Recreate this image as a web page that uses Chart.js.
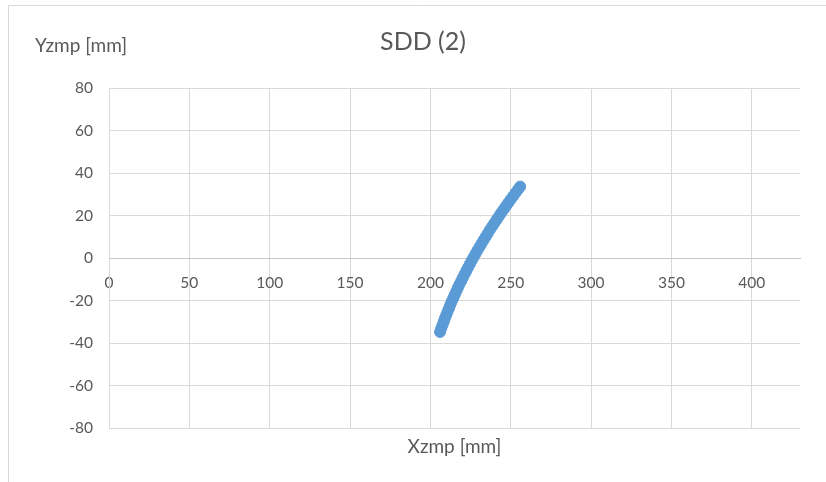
<!DOCTYPE html>
<html><head><meta charset="utf-8">
<script src="https://cdn.jsdelivr.net/npm/chart.js@4.4.0/dist/chart.umd.min.js"></script>
<style>html,body{margin:0;padding:0;background:#fff;} canvas{display:block;}</style>
</head><body>
<canvas id="c" width="826" height="482"></canvas>
<script>
const chartTitle = 'SDD (2)';
const xAxisTitle = 'Xzmp [mm]';
const yAxisTitle = 'Yzmp [mm]';
const xTickValues = [0, 50, 100, 150, 200, 250, 300, 350, 400];
const yTickValues = [-80, -60, -40, -20, 0, 20, 40, 60, 80];
const xValues = [206.0, 206.7, 207.5, 208.3, 209.0, 209.9, 210.7, 211.6, 212.4, 213.3,
  214.3, 215.2, 216.2, 217.1, 218.1, 219.2, 220.2, 221.3, 222.4, 223.5,
  224.6, 225.7, 226.9, 228.1, 229.3, 230.6, 231.8, 233.1, 234.4, 235.7,
  237.0, 238.4, 239.8, 241.2, 242.6, 244.0, 245.5, 247.0, 248.5, 250.0,
  251.6, 253.1, 254.7, 255.9];
const yValues = [-34.8, -33.2, -31.6, -30.0, -28.4, -26.8, -25.2, -23.6, -22.0, -20.4,
  -18.8, -17.2, -15.6, -14.0, -12.4, -10.8, -9.2, -7.6, -6.0, -4.4,
  -2.8, -1.2, 0.4, 2.0, 3.6, 5.2, 6.8, 8.4, 10.0, 11.6,
  13.2, 14.8, 16.4, 18.0, 19.6, 21.2, 22.8, 24.4, 26.0, 27.6,
  29.2, 30.8, 32.4, 33.6];

const points = xValues.map((x, i) => ({x: x, y: yValues[i]}));
const textColor = '#595959';
const gridColor = '#d9d9d9';

const decor = {
  id: 'decor',
  beforeDraw(chart) {
    const ctx = chart.ctx;
    ctx.save();
    ctx.strokeStyle = '#d9d9d9';
    ctx.lineWidth = 1;
    ctx.beginPath();
    ctx.moveTo(8.5, 482);
    ctx.lineTo(8.5, 5.5);
    ctx.lineTo(826, 5.5);
    ctx.stroke();
    ctx.restore();
  },
  afterDraw(chart) {
    const {ctx, chartArea} = chart;
    ctx.save();
    ctx.fillStyle = textColor;
    ctx.textBaseline = 'middle';
    ctx.textAlign = 'center';
    ctx.font = '25px Lato';
    ctx.fillText(chartTitle, 423, 42);
    ctx.font = '19px Lato';
    ctx.fillText(xAxisTitle, (chartArea.left + chartArea.right) / 2, chartArea.bottom + 19);
    ctx.textAlign = 'left';
    ctx.fillText(yAxisTitle, 35, 46);
    ctx.restore();
  }
};

new Chart(document.getElementById('c'), {
  type: 'scatter',
  data: {
    datasets: [{
      data: points,
      backgroundColor: '#5B9BD5',
      borderColor: '#5B9BD5',
      pointRadius: 5.5,
      borderWidth: 1,
      showLine: false
    }]
  },
  options: {
    responsive: false,
    animation: false,
    layout: {padding: {left: 9, right: 26, top: 88, bottom: 54}},
    plugins: {legend: {display: false}, tooltip: {enabled: false}, title: {display: false}},
    scales: {
      x: {
        type: 'linear',
        position: {y: 0},
        min: 0,
        max: 430,
        afterBuildTicks: s => { s.ticks = xTickValues.map(v => ({value: v})); },
        ticks: {color: textColor, font: {family: 'Lato', size: 15.5}, padding: 16, maxRotation: 0, autoSkip: false},
        grid: {color: gridColor, drawTicks: false},
        border: {color: '#c8c8c8'}
      },
      y: {
        type: 'linear',
        min: -80,
        max: 80,
        afterBuildTicks: s => { s.ticks = yTickValues.map(v => ({value: v})); },
        afterFit: s => { s.width = 100; },
        ticks: {color: textColor, font: {family: 'Lato', size: 15.5}, padding: 16},
        grid: {color: gridColor, drawTicks: false},
        border: {color: gridColor}
      }
    }
  },
  plugins: [decor]
});
</script>
</body></html>
